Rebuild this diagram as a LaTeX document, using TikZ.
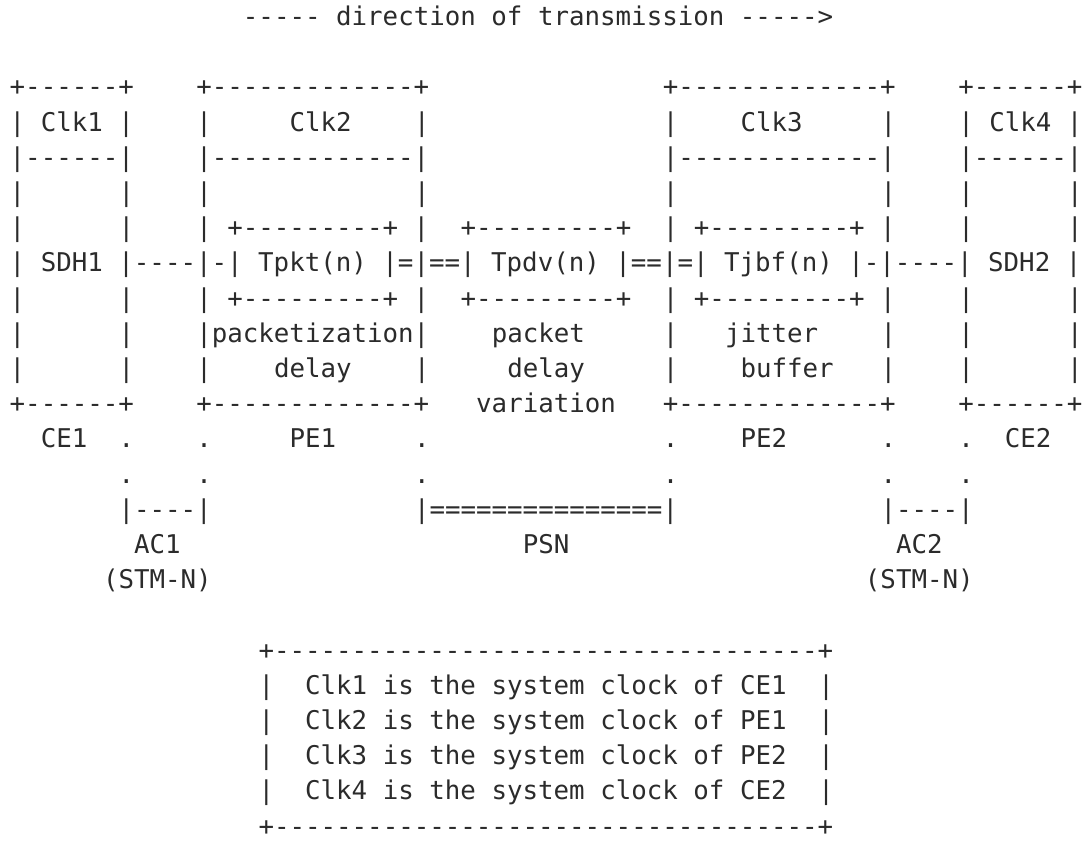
\documentclass[tikz,border=0pt]{standalone}
\usepackage{fontspec}
\setmonofont{DejaVu Sans Mono}
\definecolor{ink}{HTML}{2B2B2B}
\newcounter{segc}
\tikzset{txt/.style={anchor=base west, inner sep=0pt, outer sep=0pt, text=ink,
  font=\ttfamily\fontsize{12.9pt}{15pt}\selectfont}}
% \atxt{line}{column}{text}
\newcommand\atxt[3]{\stepcounter{segc}\node[txt] (s\arabic{segc}) at ({#2*15.55+9.7},{-(#1*35.2+25.5)}) {#3};}
\begin{document}
\begin{tikzpicture}[x=0.5pt,y=0.5pt]
\frenchspacing
\fill[white] (0,0) rectangle (1088,-842);
\useasboundingbox (0,0) rectangle (1088,-842);
% title
\atxt{0}{15}{----- direction of transmission ----->}
% line 2
\atxt{2}{0}{+------+}\atxt{2}{12}{+-------------+}\atxt{2}{42}{+-------------+}\atxt{2}{61}{+------+}
% line 3
\atxt{3}{0}{| Clk1 |}\atxt{3}{12}{|}\atxt{3}{18}{Clk2}\atxt{3}{26}{|}
\atxt{3}{42}{|}\atxt{3}{47}{Clk3}\atxt{3}{56}{|}\atxt{3}{61}{| Clk4 |}
% line 4
\atxt{4}{0}{|------|}\atxt{4}{12}{|-------------|}\atxt{4}{42}{|-------------|}\atxt{4}{61}{|------|}
% line 5
\foreach \c in {0,7,12,26,42,56,61,68} {\atxt{5}{\c}{|}}
% line 6 and 8
\foreach \l in {6,8} {
  \atxt{\l}{0}{|}\atxt{\l}{7}{|}\atxt{\l}{12}{| +---------+ |}\atxt{\l}{29}{+---------+}
  \atxt{\l}{42}{| +---------+ |}\atxt{\l}{61}{|}\atxt{\l}{68}{|}
}
% line 7
\atxt{7}{0}{| SDH1 |----|-| Tpkt(n) |=|==| Tpdv(n) |==|=| Tjbf(n) |-|----| SDH2 |}
% line 9
\atxt{9}{0}{|}\atxt{9}{7}{|}\atxt{9}{12}{|packetization|}\atxt{9}{31}{packet}
\atxt{9}{42}{|}\atxt{9}{46}{jitter}\atxt{9}{56}{|}\atxt{9}{61}{|}\atxt{9}{68}{|}
% line 10
\atxt{10}{0}{|}\atxt{10}{7}{|}\atxt{10}{12}{|}\atxt{10}{17}{delay}\atxt{10}{26}{|}
\atxt{10}{32}{delay}\atxt{10}{42}{|}\atxt{10}{47}{buffer}\atxt{10}{56}{|}\atxt{10}{61}{|}\atxt{10}{68}{|}
% line 11
\atxt{11}{0}{+------+}\atxt{11}{12}{+-------------+}\atxt{11}{30}{variation}
\atxt{11}{42}{+-------------+}\atxt{11}{61}{+------+}
% line 12
\atxt{12}{2}{CE1}\atxt{12}{7}{.}\atxt{12}{12}{.}\atxt{12}{18}{PE1}\atxt{12}{26}{.}
\atxt{12}{42}{.}\atxt{12}{47}{PE2}\atxt{12}{56}{.}\atxt{12}{61}{.}\atxt{12}{64}{CE2}
% line 13
\foreach \c in {7,12,26,42,56,61} {\atxt{13}{\c}{.}}
% line 14
\atxt{14}{7}{|----|}\atxt{14}{26}{|===============|}\atxt{14}{56}{|----|}
% line 15, 16
\atxt{15}{8}{AC1}\atxt{15}{33}{PSN}\atxt{15}{57}{AC2}
\atxt{16}{6}{(STM-N)}\atxt{16}{55}{(STM-N)}
% legend box
\atxt{18}{16}{+-----------------------------------+}
\atxt{19}{16}{|}\atxt{19}{19}{Clk1 is the system clock of CE1}\atxt{19}{52}{|}
\atxt{20}{16}{|}\atxt{20}{19}{Clk2 is the system clock of PE1}\atxt{20}{52}{|}
\atxt{21}{16}{|}\atxt{21}{19}{Clk3 is the system clock of PE2}\atxt{21}{52}{|}
\atxt{22}{16}{|}\atxt{22}{19}{Clk4 is the system clock of CE2}\atxt{22}{52}{|}
\atxt{23}{16}{+-----------------------------------+}
\end{tikzpicture}
\end{document}
